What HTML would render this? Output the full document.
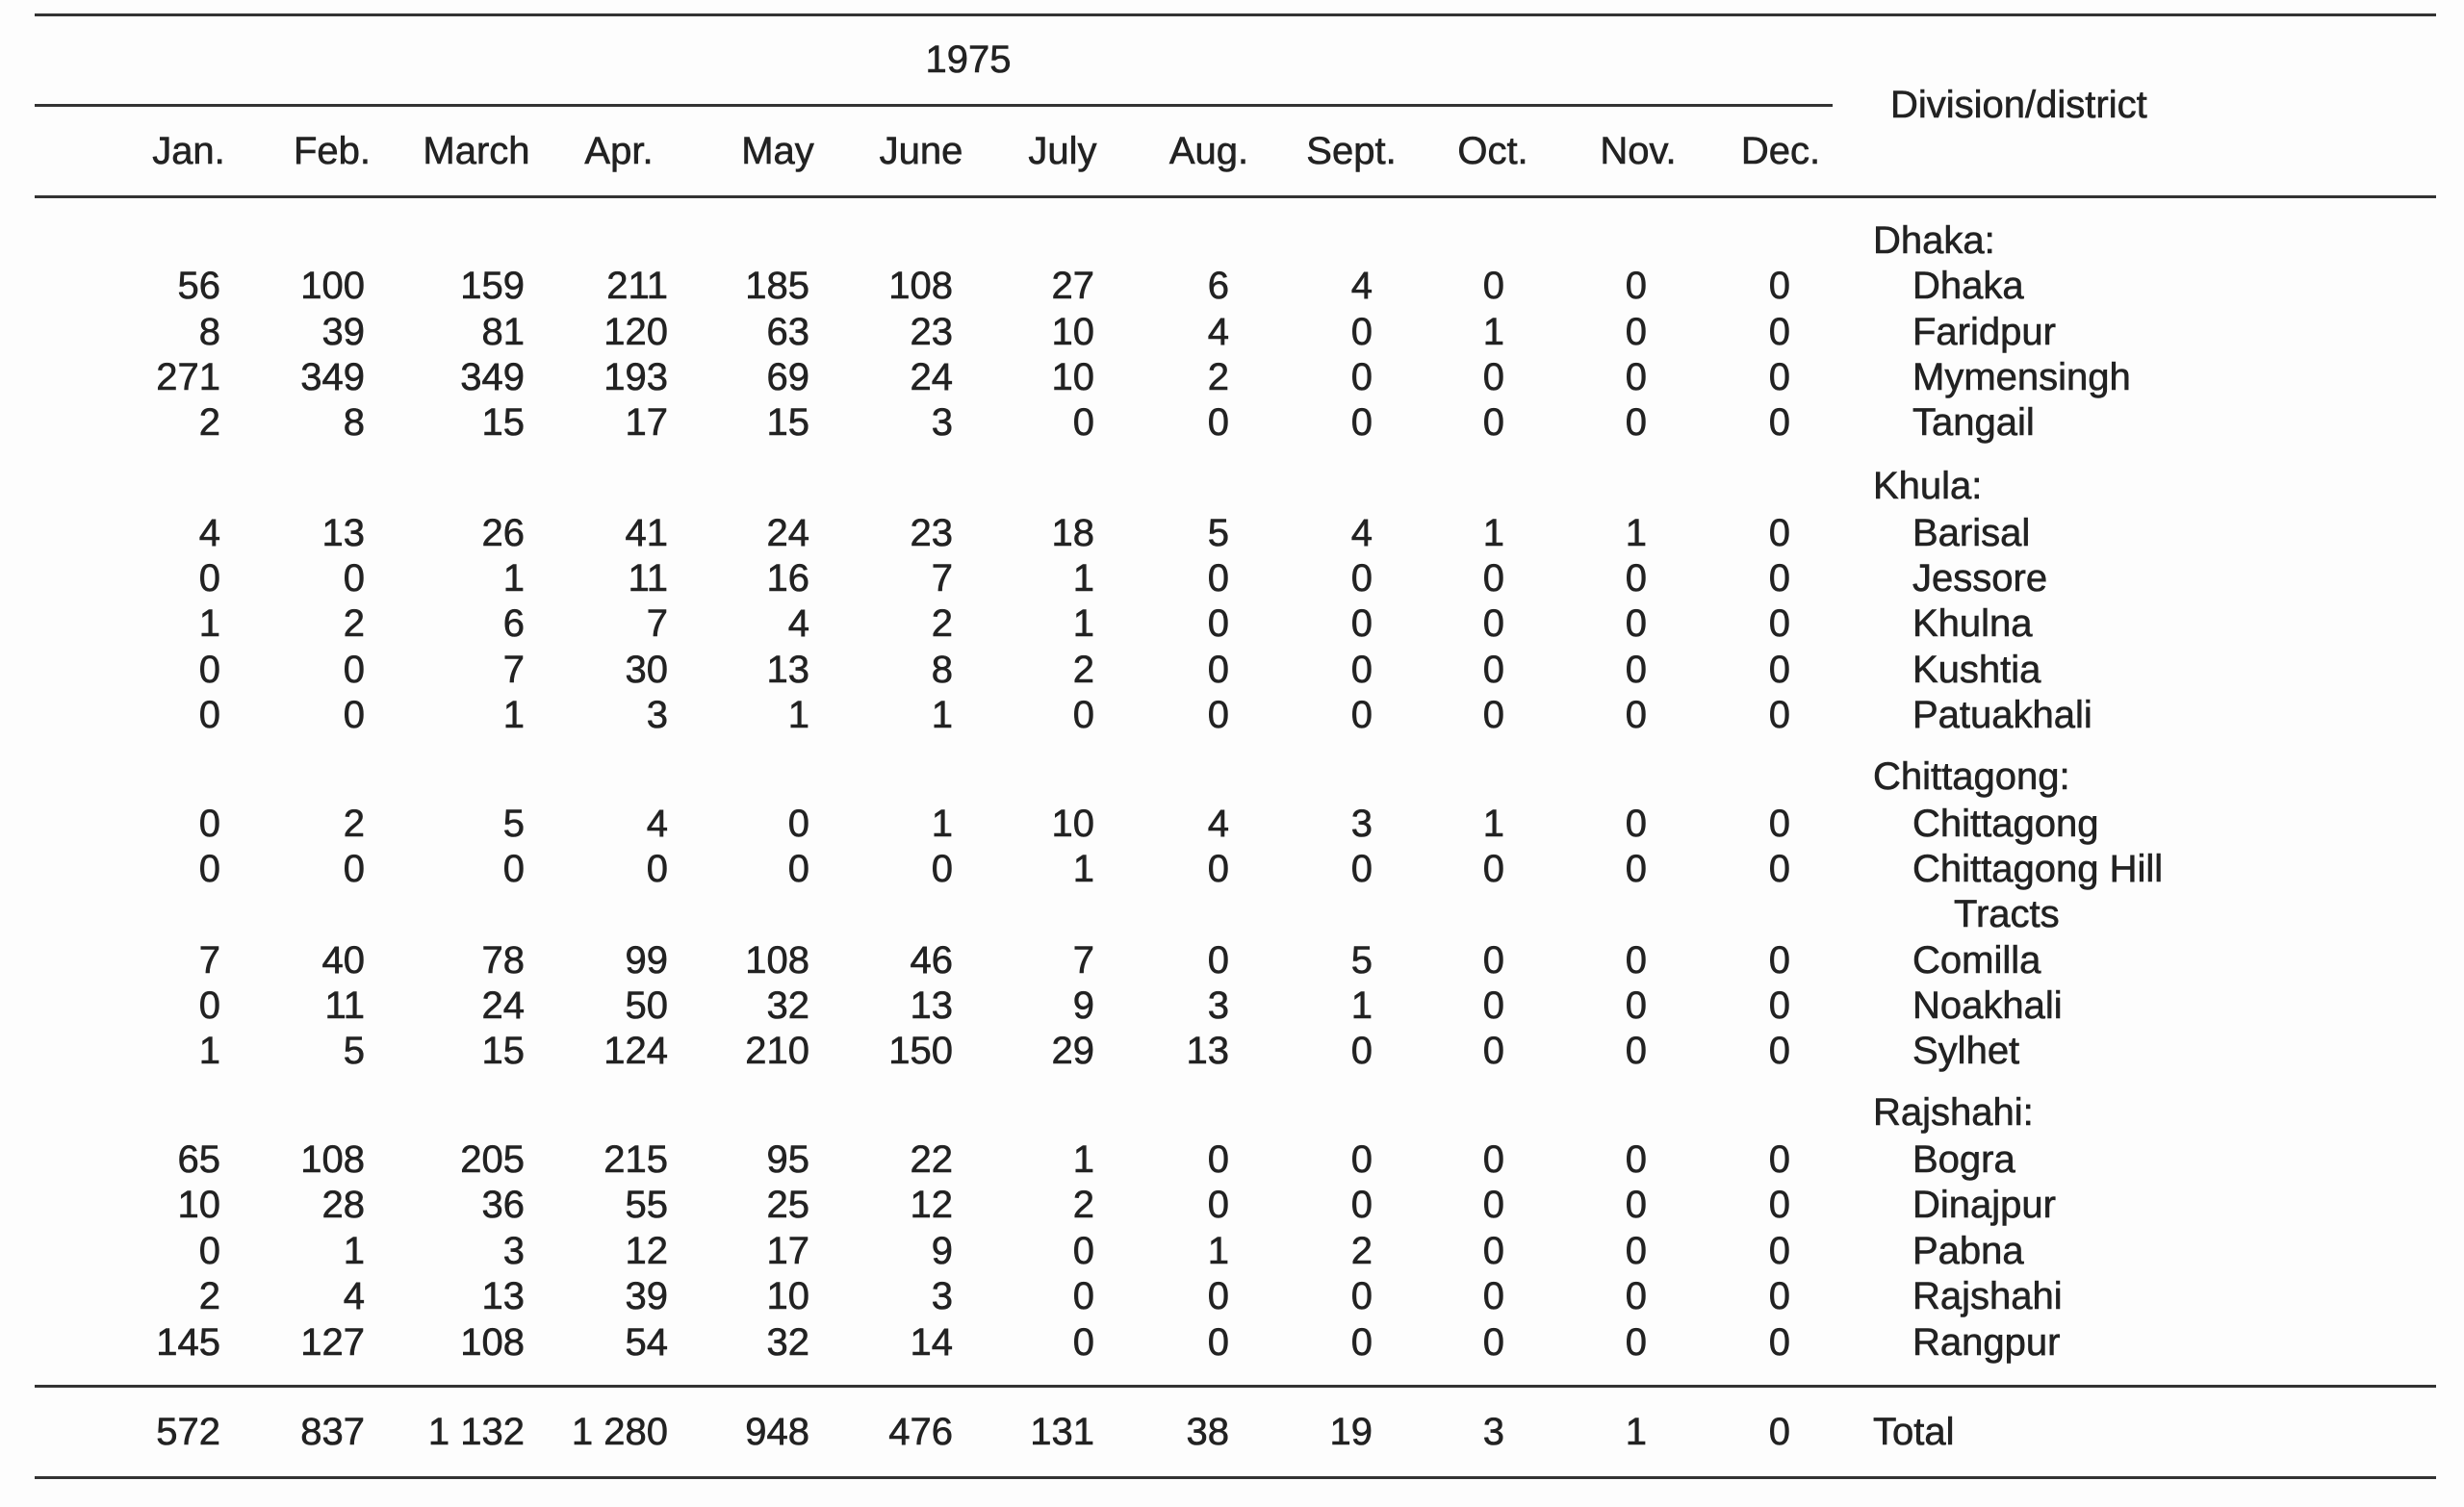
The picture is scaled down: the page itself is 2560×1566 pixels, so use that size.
<!DOCTYPE html>
<html><head><meta charset="utf-8"><style>
body{margin:0;width:2560px;height:1566px;background:#fdfdfd;position:relative;overflow:hidden;font-family:"Liberation Sans",sans-serif;color:#222;font-size:40px;-webkit-text-stroke:0.6px #222}
.l{position:absolute;height:3px;background:#333}
.r{position:absolute;left:0;width:2560px;height:50px;line-height:50px}
.r span{position:absolute;width:200px;text-align:right}
.a{left:29px}.b{left:179px}.c{left:345px}.d{left:494px}.e{left:641px}.f{left:790px}.g{left:937px}.h{left:1077px}.i{left:1226px}.j{left:1363px}.k{left:1511px}.m{left:1660px}
.r span.n{left:1987px;text-align:left;width:500px}
.r span.t{left:1946px;text-align:left;width:500px}
.hd span{width:200px;text-align:center}
</style></head><body>
<div class="l" style="top:14px;left:36px;width:2495px"></div>
<div class="l" style="top:108px;left:36px;width:1868px"></div>
<div class="l" style="top:203px;left:36px;width:2495px"></div>
<div class="l" style="top:1439px;left:36px;width:2495px"></div>
<div class="l" style="top:1534px;left:36px;width:2495px"></div>
<div style="position:absolute;left:906px;width:200px;text-align:center;top:37px;line-height:50px">1975</div>
<div style="position:absolute;left:1964px;top:84px;line-height:50px">Division/district</div>
<div class="r hd" style="top:132px">
<span style="left:96px">Jan.</span><span style="left:245px">Feb.</span><span style="left:395px">March</span><span style="left:543px">Apr.</span><span style="left:708px">May</span><span style="left:857px">June</span><span style="left:1004px">July</span><span style="left:1156px">Aug.</span><span style="left:1304px">Sept.</span><span style="left:1451px">Oct.</span><span style="left:1602px">Nov.</span><span style="left:1750px">Dec.</span></div>

<div class="r" style="top:225px"><span class="t">Dhaka:</span></div>
<div class="r" style="top:272px"><span class="a">56</span><span class="b">100</span><span class="c">159</span><span class="d">211</span><span class="e">185</span><span class="f">108</span><span class="g">27</span><span class="h">6</span><span class="i">4</span><span class="j">0</span><span class="k">0</span><span class="m">0</span><span class="n">Dhaka</span></div>
<div class="r" style="top:320px"><span class="a">8</span><span class="b">39</span><span class="c">81</span><span class="d">120</span><span class="e">63</span><span class="f">23</span><span class="g">10</span><span class="h">4</span><span class="i">0</span><span class="j">1</span><span class="k">0</span><span class="m">0</span><span class="n">Faridpur</span></div>
<div class="r" style="top:367px"><span class="a">271</span><span class="b">349</span><span class="c">349</span><span class="d">193</span><span class="e">69</span><span class="f">24</span><span class="g">10</span><span class="h">2</span><span class="i">0</span><span class="j">0</span><span class="k">0</span><span class="m">0</span><span class="n">Mymensingh</span></div>
<div class="r" style="top:414px"><span class="a">2</span><span class="b">8</span><span class="c">15</span><span class="d">17</span><span class="e">15</span><span class="f">3</span><span class="g">0</span><span class="h">0</span><span class="i">0</span><span class="j">0</span><span class="k">0</span><span class="m">0</span><span class="n">Tangail</span></div>

<div class="r" style="top:480px"><span class="t">Khula:</span></div>
<div class="r" style="top:529px"><span class="a">4</span><span class="b">13</span><span class="c">26</span><span class="d">41</span><span class="e">24</span><span class="f">23</span><span class="g">18</span><span class="h">5</span><span class="i">4</span><span class="j">1</span><span class="k">1</span><span class="m">0</span><span class="n">Barisal</span></div>
<div class="r" style="top:576px"><span class="a">0</span><span class="b">0</span><span class="c">1</span><span class="d">11</span><span class="e">16</span><span class="f">7</span><span class="g">1</span><span class="h">0</span><span class="i">0</span><span class="j">0</span><span class="k">0</span><span class="m">0</span><span class="n">Jessore</span></div>
<div class="r" style="top:623px"><span class="a">1</span><span class="b">2</span><span class="c">6</span><span class="d">7</span><span class="e">4</span><span class="f">2</span><span class="g">1</span><span class="h">0</span><span class="i">0</span><span class="j">0</span><span class="k">0</span><span class="m">0</span><span class="n">Khulna</span></div>
<div class="r" style="top:671px"><span class="a">0</span><span class="b">0</span><span class="c">7</span><span class="d">30</span><span class="e">13</span><span class="f">8</span><span class="g">2</span><span class="h">0</span><span class="i">0</span><span class="j">0</span><span class="k">0</span><span class="m">0</span><span class="n">Kushtia</span></div>
<div class="r" style="top:718px"><span class="a">0</span><span class="b">0</span><span class="c">1</span><span class="d">3</span><span class="e">1</span><span class="f">1</span><span class="g">0</span><span class="h">0</span><span class="i">0</span><span class="j">0</span><span class="k">0</span><span class="m">0</span><span class="n">Patuakhali</span></div>

<div class="r" style="top:782px"><span class="t">Chittagong:</span></div>
<div class="r" style="top:831px"><span class="a">0</span><span class="b">2</span><span class="c">5</span><span class="d">4</span><span class="e">0</span><span class="f">1</span><span class="g">10</span><span class="h">4</span><span class="i">3</span><span class="j">1</span><span class="k">0</span><span class="m">0</span><span class="n">Chittagong</span></div>
<div class="r" style="top:878px"><span class="a">0</span><span class="b">0</span><span class="c">0</span><span class="d">0</span><span class="e">0</span><span class="f">0</span><span class="g">1</span><span class="h">0</span><span class="i">0</span><span class="j">0</span><span class="k">0</span><span class="m">0</span><span class="n">Chittagong Hill</span></div>
<div class="r" style="top:925px"><span class="n" style="left:2030px">Tracts</span></div>
<div class="r" style="top:973px"><span class="a">7</span><span class="b">40</span><span class="c">78</span><span class="d">99</span><span class="e">108</span><span class="f">46</span><span class="g">7</span><span class="h">0</span><span class="i">5</span><span class="j">0</span><span class="k">0</span><span class="m">0</span><span class="n">Comilla</span></div>
<div class="r" style="top:1020px"><span class="a">0</span><span class="b">11</span><span class="c">24</span><span class="d">50</span><span class="e">32</span><span class="f">13</span><span class="g">9</span><span class="h">3</span><span class="i">1</span><span class="j">0</span><span class="k">0</span><span class="m">0</span><span class="n">Noakhali</span></div>
<div class="r" style="top:1067px"><span class="a">1</span><span class="b">5</span><span class="c">15</span><span class="d">124</span><span class="e">210</span><span class="f">150</span><span class="g">29</span><span class="h">13</span><span class="i">0</span><span class="j">0</span><span class="k">0</span><span class="m">0</span><span class="n">Sylhet</span></div>

<div class="r" style="top:1131px"><span class="t">Rajshahi:</span></div>
<div class="r" style="top:1180px"><span class="a">65</span><span class="b">108</span><span class="c">205</span><span class="d">215</span><span class="e">95</span><span class="f">22</span><span class="g">1</span><span class="h">0</span><span class="i">0</span><span class="j">0</span><span class="k">0</span><span class="m">0</span><span class="n">Bogra</span></div>
<div class="r" style="top:1227px"><span class="a">10</span><span class="b">28</span><span class="c">36</span><span class="d">55</span><span class="e">25</span><span class="f">12</span><span class="g">2</span><span class="h">0</span><span class="i">0</span><span class="j">0</span><span class="k">0</span><span class="m">0</span><span class="n">Dinajpur</span></div>
<div class="r" style="top:1275px"><span class="a">0</span><span class="b">1</span><span class="c">3</span><span class="d">12</span><span class="e">17</span><span class="f">9</span><span class="g">0</span><span class="h">1</span><span class="i">2</span><span class="j">0</span><span class="k">0</span><span class="m">0</span><span class="n">Pabna</span></div>
<div class="r" style="top:1322px"><span class="a">2</span><span class="b">4</span><span class="c">13</span><span class="d">39</span><span class="e">10</span><span class="f">3</span><span class="g">0</span><span class="h">0</span><span class="i">0</span><span class="j">0</span><span class="k">0</span><span class="m">0</span><span class="n">Rajshahi</span></div>
<div class="r" style="top:1370px"><span class="a">145</span><span class="b">127</span><span class="c">108</span><span class="d">54</span><span class="e">32</span><span class="f">14</span><span class="g">0</span><span class="h">0</span><span class="i">0</span><span class="j">0</span><span class="k">0</span><span class="m">0</span><span class="n">Rangpur</span></div>

<div class="r" style="top:1463px"><span class="a">572</span><span class="b">837</span><span class="c">1 132</span><span class="d">1 280</span><span class="e">948</span><span class="f">476</span><span class="g">131</span><span class="h">38</span><span class="i">19</span><span class="j">3</span><span class="k">1</span><span class="m">0</span><span class="t">Total</span></div>
</body></html>
